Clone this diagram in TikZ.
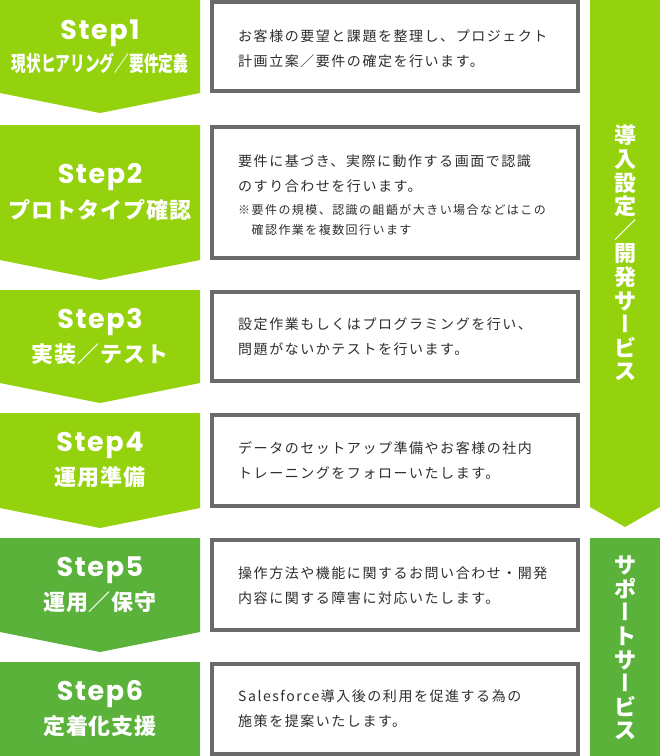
\documentclass[tikz,border=0pt]{standalone}
\usepackage{fontspec}
\usepackage{xcolor}
\usepackage{graphicx}
\setmainfont{Noto Sans CJK JP}
\newfontfamily\jpfont{Noto Sans CJK JP}[LetterSpace=11]
\newfontfamily\notefont{Noto Sans CJK JP}[LetterSpace=12]
\newfontfamily\subfont{Noto Sans CJK JP}[LetterSpace=4]
\newfontfamily\vertfont{Noto Sans CJK JP}[RawFeature=+vert]
\newfontfamily\stepfont{Poppins}[LetterSpace=6]
\definecolor{lime}{HTML}{95D20E}
\definecolor{leaf}{HTML}{5BB23B}
\definecolor{frame}{HTML}{6A6A6A}
\definecolor{ink}{HTML}{2E2E2E}
\newcommand{\steptitle}[2]{{\stepfont\bfseries\fontsize{27}{27}\selectfont #1}\\[7pt]{\subfont\bfseries\fontsize{22}{22}\selectfont #2}}

\begin{document}
\begin{tikzpicture}[x=1pt,y=-1pt,
    steplabel/.style={text=white,align=center,inner sep=0pt},
    descbox/.style={draw=frame,line width=4pt,fill=white},
    desctext/.style={text=ink,align=left,anchor=west,inner sep=0pt,font=\jpfont\fontsize{14}{25}\selectfont},
    sidetext/.style={text=white,align=center,inner sep=0pt,font=\bfseries\fontsize{22}{23.6}\selectfont}]
        \useasboundingbox (0,0) rectangle (660,756);
        % step arrows
        \fill[lime] (0,0) -- (200,0) -- (200,93) -- (100,113) -- (0,93) -- cycle;
        \fill[lime] (0,125) -- (200,125) -- (200,260) -- (100,280) -- (0,260) -- cycle;
        \fill[lime] (0,290) -- (200,290) -- (200,383) -- (100,403) -- (0,383) -- cycle;
        \fill[lime] (0,413) -- (200,413) -- (200,508) -- (100,528) -- (0,508) -- cycle;
        \fill[leaf] (0,538) -- (200,538) -- (200,632) -- (100,652) -- (0,632) -- cycle;
        \fill[leaf] (0,662) rectangle (200,756);
        \node[steplabel](s1) at (100,47) {{\stepfont\bfseries\fontsize{27}{27}\selectfont Step1}\\[5pt]\scalebox{0.7}[1]{\bfseries\fontsize{21}{21}\selectfont 現状ヒアリング／要件定義}};
        \node[steplabel](s2) at (100,192) {\steptitle{Step2}{プロトタイプ確認}};
        \node[steplabel](s3) at (100,336) {\steptitle{Step3}{実装／テスト}};
        \node[steplabel](s4) at (100,460) {\steptitle{Step4}{運用準備}};
        \node[steplabel](s5) at (100,585) {\steptitle{Step5}{運用／保守}};
        \node[steplabel](s6) at (100,709) {\steptitle{Step6}{定着化支援}};
        % description boxes
        \draw[descbox] (212,2) rectangle (578,91);
        \draw[descbox] (212,127) rectangle (578,258);
        \draw[descbox] (212,292) rectangle (578,381);
        \draw[descbox] (212,415) rectangle (578,506);
        \draw[descbox] (212,540) rectangle (578,630);
        \draw[descbox] (212,664) rectangle (578,754);
        \node[desctext](d1) at (238,49) {お客様の要望と課題を整理し、プロジェクト\\計画立案／要件の確定を行います。};
        \node[desctext](d2) at (238,174) {要件に基づき、実際に動作する画面で認識\\のすり合わせを行います。};
        \node[desctext,font=\notefont\fontsize{12}{20}\selectfont](n2) at (238,220) {※要件の規模、認識の齟齬が大きい場合などはこの\\　確認作業を複数回行います};
        \node[desctext](d3) at (238,337) {設定作業もしくはプログラミングを行い、\\問題がないかテストを行います。};
        \node[desctext](d4) at (238,461) {データのセットアップ準備やお客様の社内\\トレーニングをフォローいたします。};
        \node[desctext](d5) at (238,586) {操作方法や機能に関するお問い合わせ・開発\\内容に関する障害に対応いたします。};
        \node[desctext](d6) at (238,709) {Salesforce導入後の利用を促進する為の\\施策を提案いたします。};
        % side bars
        \fill[lime] (590,0) -- (660,0) -- (660,507) -- (625,527) -- (590,507) -- cycle;
        \fill[leaf] (590,538) rectangle (660,756);
        \node[sidetext](dev) at (625,253) {導\\入\\設\\定\\／\\開\\発\\サ\\{\vertfont ー}\\ビ\\ス};
        \node[sidetext](sup) at (625,648) {サ\\ポ\\{\vertfont ー}\\ト\\サ\\{\vertfont ー}\\ビ\\ス};
\end{tikzpicture}
\end{document}
